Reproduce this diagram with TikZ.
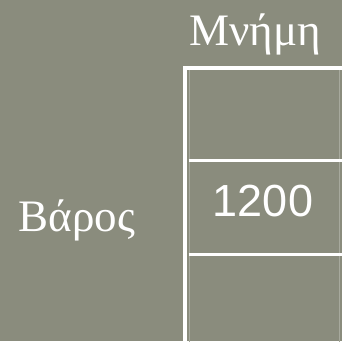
\documentclass[tikz,border=0pt]{standalone}
\usepackage{fontspec}
\setmainfont{Liberation Serif}
\newfontfamily\numfont{Liberation Sans}
\usetikzlibrary{positioning}
\definecolor{slate}{HTML}{8A8C7D}

\begin{document}
\begin{tikzpicture}[x=1pt, y=1pt,
  cell/.style={rectangle, draw=white!25!slate, line width=0.8pt, minimum width=150pt, minimum height=93.5pt, inner sep=0pt},
  word/.style={font=\fontsize{45}{45}\selectfont, text=white, inner sep=0pt, anchor=base},
  num/.style={font=\numfont\fontsize{45}{45}\selectfont, text=white, inner sep=0pt},
  divider/.style={draw=white, line width=3pt},
  frame/.style={draw=white, line width=4pt}
]
  \fill[slate] (0,0) rectangle (342,341);
  \useasboundingbox (0,0) rectangle (342,341);
  \clip (0,0) rectangle (342,341);

  % memory cells
  \node[cell] (top) at (264,227.5) {};
  \node[cell, below=0pt of top] (mid) {};
  \node[cell, below=0pt of mid] (low) {};
  \node[num] (val) at ([yshift=7pt, xshift=-1pt]mid.center) {1200};

  % labels
  \node[word] (mem) at (255,295.3) {Μνήμη};
  \node[word] (weight) at (77,110) {Βάρος};

  % cell borders
  \draw[divider] (top.south west) -- ([xshift=5pt]top.south east);
  \draw[divider] (mid.south west) -- ([xshift=5pt]mid.south east);
  \coordinate (corner) at (185,273.5);
  \draw[frame] ([yshift=-300pt]corner) -- (corner) -- ([xshift=200pt]corner);
\end{tikzpicture}
\end{document}
